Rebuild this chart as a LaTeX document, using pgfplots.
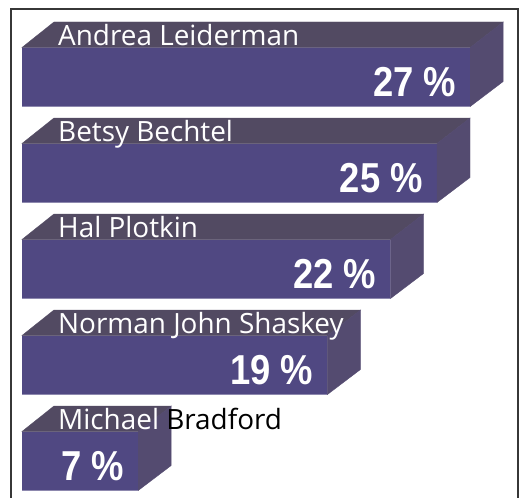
\documentclass[border=0pt]{standalone}
\usepackage{pgfplots}
\pgfplotsset{compat=1.18}
\usepackage{pgfplotstable}
\usepackage{fontspec}
\setmainfont{Open Sans}
\newfontfamily\pctfont[FakeStretch=0.87]{Liberation Sans}
\usetikzlibrary{calc}
\definecolor{frontc}{RGB}{80,72,130}
\definecolor{topc}{RGB}{82,74,98}
\definecolor{sidec}{RGB}{84,75,112}
\definecolor{framec}{RGB}{55,55,55}

% val = bar length as drawn, lab = printed percentage
\pgfplotstableread[col sep=comma]{
val,lab,cat,name
27,27,0,Andrea Leiderman
25,25,1,Betsy Bechtel
22.2,22,2,Hal Plotkin
18.4,19,3,Norman John Shaskey
7,7,4,Michael \textcolor{black}{Bradford}
}\data

\begin{document}
\begin{tikzpicture}
\begin{axis}[
    hide axis, clip=false,
    x=16.6bp, y=96bp, y dir=reverse,
    xmin=0, xmax=30, ymin=-0.5, ymax=4.5,
    /pgf/number format/assume math mode=true,
]
\coordinate (O) at (axis cs:0,0);
% front faces
\addplot[xbar, bar width=59bp, fill=frontc, draw=none] table[x=val, y=cat] {\data};
% top and side faces of the boxes
\addplot[only marks, scatter, mark=*, mark size=0.5pt,
    visualization depends on={\thisrow{val} \as \xv},
    scatter/@pre marker code/.code={%
        \fill[topc] ({-\xv*16.6bp},29.5bp) -- (0bp,29.5bp) -- (33bp,55bp) -- ({-\xv*16.6bp+32bp},55bp) -- cycle;
        \fill[sidec] (0bp,29.5bp) -- (33bp,55bp) -- (33bp,-4.5bp) -- (0bp,-29.5bp) -- cycle;
        \scope[opacity=0]
    },
    scatter/@post marker code/.code={\endscope},
] table[x=val, y=cat] {\data};
% names
\addplot[draw=none, point meta=explicit symbolic, nodes near coords,
    every node near coord/.style={anchor=base west, xshift=36bp, yshift=32bp,
        text=white, inner sep=0pt, font=\fontsize{28}{28}\selectfont},
] table[x expr=0, y=cat, meta=name] {\data};
% percentages
\addplot[draw=none, point meta=explicit, 
    nodes near coords={\pgfmathprintnumber{\pgfplotspointmeta}~\%},
    every node near coord/.style={anchor=base east, xshift=-14bp, yshift=-19bp,
        text=white, inner sep=0pt, font=\pctfont\bfseries\fontsize{42}{42}\selectfont},
] table[x=val, y=cat, meta=lab] {\data};
\end{axis}
\coordinate (P) at ($(O)+(-22bp,77bp)$);
\draw[framec, line width=1.5bp] ($(P)+(11bp,-505bp)$) |- ($(P)+(518bp,-9bp)$) -- ($(P)+(518bp,-505bp)$);
\pgfresetboundingbox
\path[use as bounding box] (P) rectangle ($(P)+(525bp,-498bp)$);
\end{tikzpicture}
\end{document}
